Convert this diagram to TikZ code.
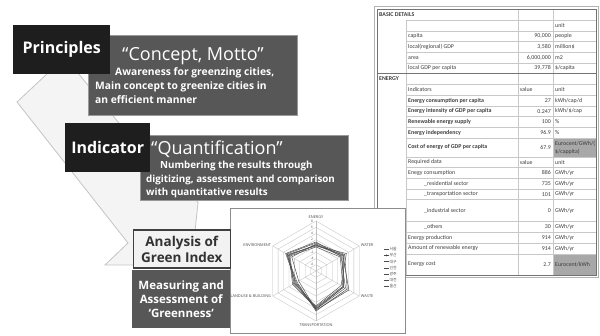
\documentclass[tikz,border=0pt]{standalone}
\usepackage{fontspec}
\setmainfont{Open Sans}
\newfontfamily\tblfont{Carlito}
\newfontfamily\kofont{Noto Sans CJK KR}
\usetikzlibrary{calc}
\definecolor{boxblack}{HTML}{1E1E1E}
\definecolor{boxgray}{HTML}{575757}
\definecolor{lightbox}{HTML}{F2F2F2}
\definecolor{arrowfill}{HTML}{F4F4F4}
\definecolor{arrowline}{HTML}{C4C4C4}
\definecolor{tblline}{HTML}{C8C8C8}
\definecolor{tbltext}{HTML}{3C3C3C}
\definecolor{tblgray}{HTML}{A8A8A8}

\begin{document}
\begin{tikzpicture}[
        x=1pt, y=-1pt,
        darkbox/.style={fill=boxblack, inner sep=0pt, text=white, anchor=north west,
            font=\fontsize{16}{19}\selectfont\bfseries},
        graybox/.style={fill=boxgray, draw=gray!80, inner sep=0pt, anchor=north west},
        lightframe/.style={fill=lightbox, draw=black!75, line width=1.6pt, inner sep=0pt,
            anchor=north west, text=black!80, align=center,
            font=\fontsize{13.5}{16}\selectfont\bfseries},
        title/.style={text=white, inner sep=0pt, font=\fontsize{18}{21}\selectfont},
        body/.style={text=white, inner sep=0pt, align=left, anchor=north west},
        bigarrow/.style={fill=arrowfill, draw=arrowline, line width=0.8pt},
        tcell/.style={anchor=west, inner sep=0pt, text=tbltext,
            font=\tblfont\fontsize{5.9}{6.6}\selectfont},
        tnum/.style={tcell, anchor=east},
        tline/.style={draw=tblline, line width=0.4pt},
        gridline/.style={draw=black!25, line width=0.3pt},
        series/.style={draw=black!70, line width=0.45pt},
        axislabel/.style={inner sep=0.6pt, text=black!70, font=\fontsize{3.9}{4.5}\selectfont},
        legtext/.style={anchor=west, inner sep=0.4pt, text=black!70, font=\kofont\fontsize{3.9}{4.5}\selectfont}
    ]
        \useasboundingbox (0,0) rectangle (600,336);

        % Background arrow
        \draw[bigarrow] (17,102) -- (48,73) -- (78,73) -- (118,122) -- (186,182) -- (198,203)
            -- (193,250) -- (140,265) -- (105,265) -- (128,243) -- cycle;

        % Principles
        \node[graybox, minimum width=209pt, minimum height=80pt] (concept) at (88,35) {};
        \node[darkbox, minimum width=97pt, minimum height=49pt] (princ) at (13,25) {Principles};
        \node[title] (concepttitle) at (193,56) {“Concept, Motto”};
        \node[body, font=\fontsize{10.3}{14}\selectfont\bfseries] (conceptbody) at (95,67)
            {\hspace*{20pt}Awareness for greenzing cities,\\Main concept to greenize cities in\\an efficient manner};

        % Indicator
        \node[graybox, minimum width=208pt, minimum height=65pt] (quant) at (140,135) {};
        \node[darkbox, minimum width=85pt, minimum height=49pt] (indic) at (65,123) {Indicator};
        \node[title] (quanttitle) at (217,149) {“Quantification”};
        \node[body, font=\fontsize{9.8}{13.5}\selectfont\bfseries] (quantbody) at (146,161)
            {\hspace*{14pt}Numbering the results through\\digitizing, assessment and comparison\\with quantitative results};

        % Table
        \fill[tblgray] (553,137.9) rectangle (596,156.9);
        \fill[tblgray] (553,253.8) rectangle (596,275);
        \foreach \yy in {20.2,30.9,41.6,52.3,63,84.4,95.1,105.8,116.5,127.2,137.9,156.9,
                167.6,178.3,189,199.7,221.7,232.4,243.1,253.8}
            \draw[tline] (406,\yy) -- (596,\yy);
        \draw[tline] (406,20.2) -- (406,275);
        \draw[tline] (518,9.5) -- (518,275);
        \draw[tline] (553,9.5) -- (553,275);
        \draw[draw=black!55, line width=0.5pt] (377,73.7) -- (596,73.7);
        \draw[draw=black!55, line width=0.5pt] (377,9.5) rectangle (596,275);
        \draw[draw=black!30, line width=1pt] (374.5,7) rectangle (598.5,277.5);
        \foreach \yc/\lx/\lab/\val/\unit [count=\r] in {
            14.85/379/{\textbf{BASIC DETAILS}}/{}/{},
            25.55/408/{}/{}/unit,
            36.25/408/capita/{90,000}/people,
            46.95/408/{local(regional) GDP}/{3,580}/{million\$},
            57.65/408/area/{6,000,000}/m2,
            68.35/408/{local GDP per capita}/{39,778}/{\$/capita},
            79.05/379/{\textbf{ENERGY}}/{}/{},
            89.75/408/Indicators/{\makebox[31pt][l]{value}}/unit,
            100.45/408/{\textbf{Energy consumption per capita}}/27/{kWh/cap/d},
            111.15/408/{\textbf{Energy intensity of GDP per capita}}/0.247/{kWh/\$/cap},
            121.85/408/{\textbf{Renewable energy supply}}/100/\%,
            132.55/408/{\textbf{Energy independency}}/96.9/\%,
            147.4/408/{\textbf{Cost of energy of GDP per capita}}/67.9/{\shortstack[l]{Eurocent/GWh/(\\\$/cappita)}},
            162.25/408/{Required data}/{\makebox[31pt][l]{value}}/unit,
            172.95/408/{Enegy consumption}/886/{GWh/yr},
            183.65/424/{\_residential sector}/735/{GWh/yr},
            194.35/424/{\_transportation sector}/101/{GWh/yr},
            210.7/424/{\_industrial sector}/0/{GWh/yr},
            227.05/424/{\_others}/30/{GWh/yr},
            237.75/408/{Energy production}/914/{GWh/yr},
            248.45/408/{Amount of renewable energy}/914/{GWh/yr},
            264.4/408/{Energy cost}/2.7/{Eurocent/kWh}}
        {
            \node[tcell] (lab\r) at (\lx,\yc) {\lab};
            \node[tnum] (val\r) at (551,\yc) {\val};
            \node[tcell] (unit\r) at (555,\yc) {\unit};
        }

        % Radar chart
        \node[draw=black!45, fill=white, line width=0.5pt, inner sep=0pt, anchor=north west,
            minimum width=175pt, minimum height=125pt] (chart) at (230,208) {};
        \coordinate (rc) at (316,271);
        \foreach \k in {1,...,8}
            \draw[gridline] ($(rc)+(-90:\k*6.25)$) \foreach \a in {-30,30,90,150,210} { -- ($(rc)+(\a:\k*6.25)$) } -- cycle;
        \foreach \a in {-90,-30,30,90,150,210}
            \draw[gridline] (rc) -- ($(rc)+(\a:50)$);
        \foreach \k/\v in {8/8,7/6,6/4,5/2,4/0,3/-2,2/-4,1/-6}
            \node[axislabel, font=\fontsize{3.2}{3.6}\selectfont] (tick\k) at ($(rc)+(-4,{-\k*6.25})$) {\v};
        \foreach \e/\w/\s/\t/\l/\n in {26/30/32/38/24/32, 28/33/36/40/22/34, 24/28/31/36/26/30,
                27/31/38/39/20/28, 25/35/29/35/25/33, 29/29/34/38/23/35, 26/32/32/37/27/31}
            \draw[series] ($(rc)+(-90:\e)$) -- ($(rc)+(-30:\w)$) -- ($(rc)+(30:\s)$)
                -- ($(rc)+(90:\t)$) -- ($(rc)+(150:\l)$) -- ($(rc)+(210:\n)$) -- cycle;
        \node[axislabel, anchor=south] (energy) at ($(rc)+(-90:52)$) {ENERGY};
        \node[axislabel, anchor=west] (water) at ($(rc)+(-30:51)$) {WATER};
        \node[axislabel, anchor=west] (waste) at ($(rc)+(30:51)$) {WASTE};
        \node[axislabel, anchor=north] (transp) at ($(rc)+(90:52)$) {TRANSPORTATION};
        \node[axislabel, anchor=east] (landuse) at ($(rc)+(150:51)$) {LANDUSE \& BUILDING};
        \node[axislabel, anchor=east] (environ) at ($(rc)+(210:51)$) {ENVIRONMENT};
        \foreach \i/\city in {1/서울,2/부산,3/대구,4/인천,5/광주,6/대전,7/울산} {
            \draw[series] (384,{243+\i*6.2}) -- (389,{243+\i*6.2});
            \node[legtext] (leg\i) at (389,{243+\i*6.2}) {\city};
        }
        \fill[black!75] (386.5,255.4) circle (0.9pt);

        % Analysis of Green Index
        \node[lightframe, minimum width=97pt, minimum height=38pt] (analysis) at (132.5,229.5)
            {Analysis of\\Green Index};
        \node[graybox, draw=none, minimum width=98pt, minimum height=58pt, text=white, align=center,
            font=\fontsize{11.5}{14}\selectfont\bfseries] (measure) at (132,270)
            {Measuring and\\Assessment of\\‘Greenness’};
\end{tikzpicture}
\end{document}
